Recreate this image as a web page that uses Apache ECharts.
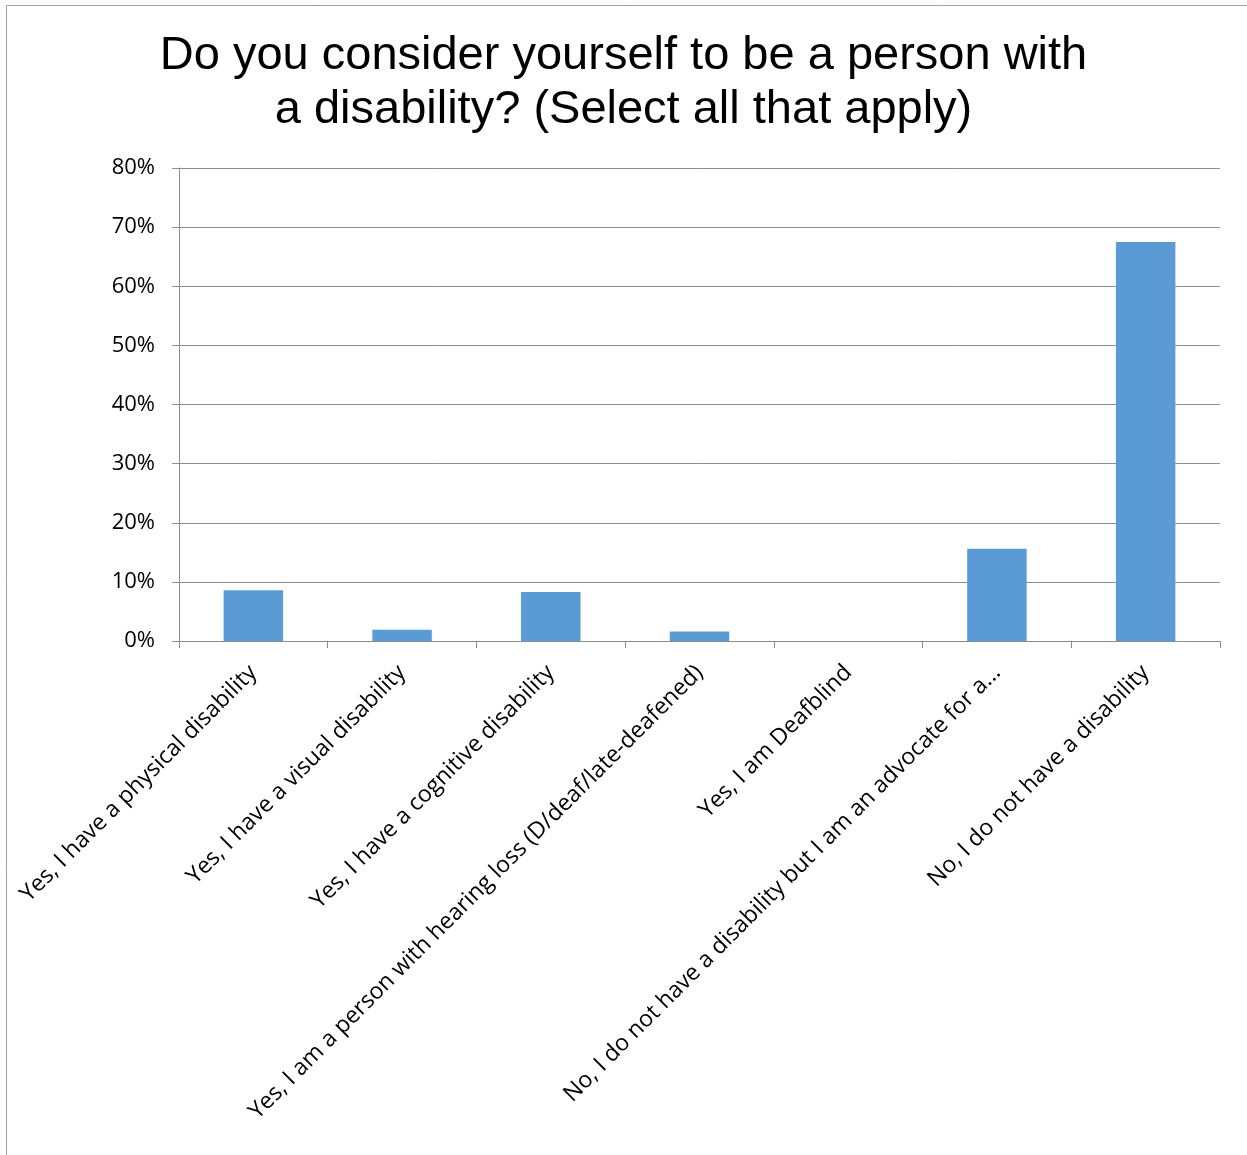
<!DOCTYPE html>
<html>
<head>
<meta charset="utf-8">
<script src="https://cdn.jsdelivr.net/npm/echarts@6/dist/echarts.min.js"></script>
<style>
  html, body { margin: 0; padding: 0; background: #fff; }
  #chart { width: 1247px; height: 1155px; }
</style>
</head>
<body>
<div id="chart"></div>
<script>
const categories = [
  'Yes, I have a physical disability',
  'Yes, I have a visual disability',
  'Yes, I have a cognitive disability',
  'Yes, I am a person with hearing loss (D/deaf/late-deafened)',
  'Yes, I am Deafblind',
  'No, I do not have a disability but I am an advocate for a...',
  'No, I do not have a disability'
]
const percentages = [8.6, 1.9, 8.3, 1.6, 0, 15.6, 67.5]
const yTicks = [0, 10, 20, 30, 40, 50, 60, 70, 80]

const chart = echarts.init(document.getElementById('chart'))
chart.setOption({
  backgroundColor: '#fff',
  animation: false,
  title: {
    text: 'Do you consider yourself to be a person with\na disability? (Select all that apply)',
    left: 'center',
    top: 24,
    textStyle: {
      fontFamily: 'Liberation Sans',
      fontSize: 47,
      fontWeight: 'normal',
      color: '#000',
      lineHeight: 54,
    },
  },
  graphic: [
    {
      type: 'rect',
      shape: { x: 6.5, y: 5.5, width: 1300, height: 1300 },
      style: { fill: 'none', stroke: '#a0a0a0', lineWidth: 1 },
      silent: true,
    },
  ],
  grid: {
    left: 179,
    right: 27,
    top: 168,
    bottom: 514,
  },
  xAxis: {
    type: 'category',
    data: categories,
    axisLine: { lineStyle: { color: '#8c8c8c', width: 1 } },
    axisTick: { show: true, length: 7, lineStyle: { color: '#8c8c8c' } },
    axisLabel: {
      interval: 0,
      rotate: 45,
      margin: 28,
      fontFamily: 'Open Sans',
      fontSize: 23,
      color: '#000',
    },
  },
  yAxis: {
    type: 'value',
    min: yTicks[0],
    max: yTicks[yTicks.length - 1],
    interval: 10,
    axisLine: { show: true, lineStyle: { color: '#8c8c8c', width: 1 } },
    axisTick: { show: true, length: 7, lineStyle: { color: '#8c8c8c' } },
    splitLine: { lineStyle: { color: '#8c8c8c', width: 1 } },
    axisLabel: {
      formatter: '{value}%',
      margin: 24,
      fontFamily: 'Open Sans',
      fontSize: 22,
      color: '#000',
    },
  },
  series: [
    {
      type: 'bar',
      data: percentages,
      barCategoryGap: '60%',
      itemStyle: { color: '#5b9bd5' },
    },
  ],
})
</script>
</body>
</html>
